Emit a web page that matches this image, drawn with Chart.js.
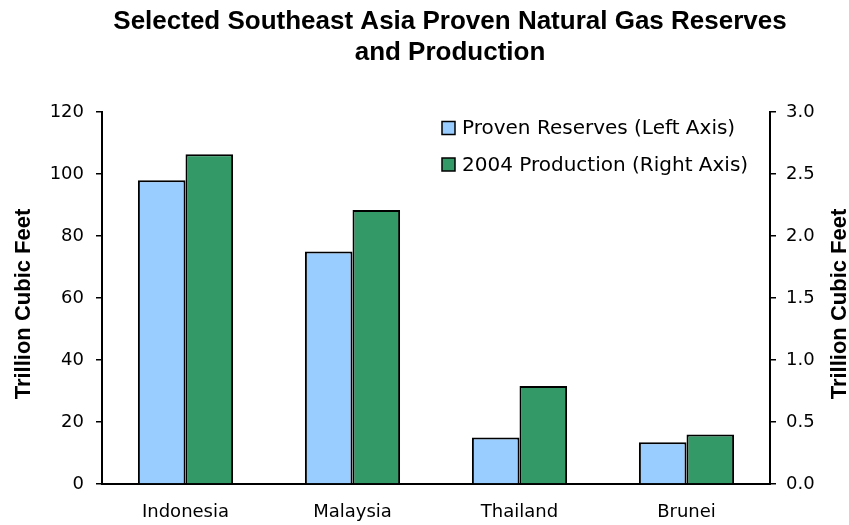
<!DOCTYPE html>
<html>
<head>
<meta charset="utf-8">
<script src="https://cdn.jsdelivr.net/npm/chart.js@4.4.1/dist/chart.umd.min.js"></script>
<style>
  html, body { margin: 0; padding: 0; background: #fff; }
  #wrap { width: 849px; height: 525px; position: relative; }
</style>
</head>
<body>
<div id="wrap"><canvas id="c" width="849" height="525"></canvas></div>
<script>
const titleLines = ['Selected Southeast Asia Proven Natural Gas Reserves', 'and Production'];
const categories = ['Indonesia', 'Malaysia', 'Thailand', 'Brunei'];
const reservesLabel = 'Proven Reserves (Left Axis)';
const productionLabel = '2004 Production (Right Axis)';
const reserves = [98, 75, 15, 13.5];        // trillion cubic feet (left axis)
const production = [2.66, 2.21, 0.79, 0.40]; // trillion cubic feet (right axis)
const axisTitle = 'Trillion Cubic Feet';

// chart title, centred a little right of the canvas middle as in the reference
const offsetTitle = {
  id: 'offsetTitle',
  afterDraw(chart) {
    const ctx = chart.ctx;
    ctx.save();
    ctx.font = 'bold 26px "Liberation Sans", Arial, sans-serif';
    ctx.fillStyle = '#000';
    ctx.textAlign = 'center';
    ctx.textBaseline = 'middle';
    titleLines.forEach((t, i) => ctx.fillText(t, 450, 22 + i * 31));
    ctx.restore();
  }
};

const insideLegend = {
  id: 'insideLegend',
  afterDraw(chart) {
    const ctx = chart.ctx;
    const x0 = 442, y0 = 128, gap = 36.5, box = 13;
    ctx.save();
    ctx.font = '20px "DejaVu Sans"';
    ctx.textBaseline = 'middle';
    ctx.textAlign = 'left';
    chart.data.datasets.forEach((ds, i) => {
      const y = y0 + i * gap;
      ctx.fillStyle = ds.backgroundColor;
      ctx.fillRect(x0, y - box / 2, box, box);
      ctx.lineWidth = 1.5;
      ctx.strokeStyle = '#000';
      ctx.strokeRect(x0, y - box / 2, box, box);
      ctx.fillStyle = '#000';
      ctx.fillText(ds.label, x0 + 20, y + 1);
    });
    ctx.restore();
  }
};

// axis titles read bottom-to-top on both sides
const axisTitles = {
  id: 'axisTitles',
  afterDraw(chart) {
    const ctx = chart.ctx;
    const cy = (chart.chartArea.top + chart.chartArea.bottom) / 2 + 6;
    ctx.save();
    ctx.font = 'bold 22px "Liberation Sans", Arial, sans-serif';
    ctx.fillStyle = '#000';
    ctx.textAlign = 'center';
    ctx.textBaseline = 'middle';
    [chart.scales.y.left + 24, chart.scales.y1.right - 9].forEach(x => {
      ctx.save();
      ctx.translate(x, cy);
      ctx.rotate(-Math.PI / 2);
      ctx.fillText(axisTitle, 0, 0);
      ctx.restore();
    });
    ctx.restore();
  }
};

new Chart(document.getElementById('c'), {
  type: 'bar',
  data: {
    labels: categories,
    datasets: [
      { label: reservesLabel, data: reserves, yAxisID: 'y',
        backgroundColor: '#99CCFF', borderColor: '#000', borderWidth: 2,
        categoryPercentage: 0.57, barPercentage: 1.0 },
      { label: productionLabel, data: production, yAxisID: 'y1',
        backgroundColor: '#339966', borderColor: '#000', borderWidth: 2,
        categoryPercentage: 0.57, barPercentage: 1.0 }
    ]
  },
  options: {
    responsive: false,
    animation: false,
    layout: { padding: { top: 112, left: 0, right: 0, bottom: 0 } },
    plugins: {
      legend: { display: false },
      tooltip: { enabled: false },
      title: { display: false }
    },
    scales: {
      x: {
        grid: { display: false, drawTicks: false },
        border: { display: true, color: '#000', width: 2 },
        ticks: { color: '#000', padding: 18, font: { family: '"DejaVu Sans"', size: 18 } },
        afterFit(s) { s.height = 41; }
      },
      y: {
        position: 'left',
        min: 0, max: 120,
        ticks: { stepSize: 20, color: '#000', padding: 12, font: { family: '"DejaVu Sans"', size: 18 } },
        grid: { drawOnChartArea: false, drawTicks: true, tickLength: 6, color: '#000', lineWidth: 1.5 },
        border: { display: true, color: '#000', width: 2 },
        title: { display: false, text: axisTitle },
        afterFit(s) { s.width = 102; }
      },
      y1: {
        position: 'right',
        min: 0, max: 3,
        ticks: { stepSize: 0.5, color: '#000', padding: 10, font: { family: '"DejaVu Sans"', size: 18 },
                 callback: v => Number(v).toFixed(1) },
        grid: { drawOnChartArea: false, drawTicks: true, tickLength: 6, color: '#000', lineWidth: 1.5 },
        border: { display: true, color: '#000', width: 2 },
        title: { display: false, text: axisTitle },
        afterFit(s) { s.width = 79; }
      }
    }
  },
  plugins: [offsetTitle, insideLegend, axisTitles]
});
</script>
</body>
</html>
